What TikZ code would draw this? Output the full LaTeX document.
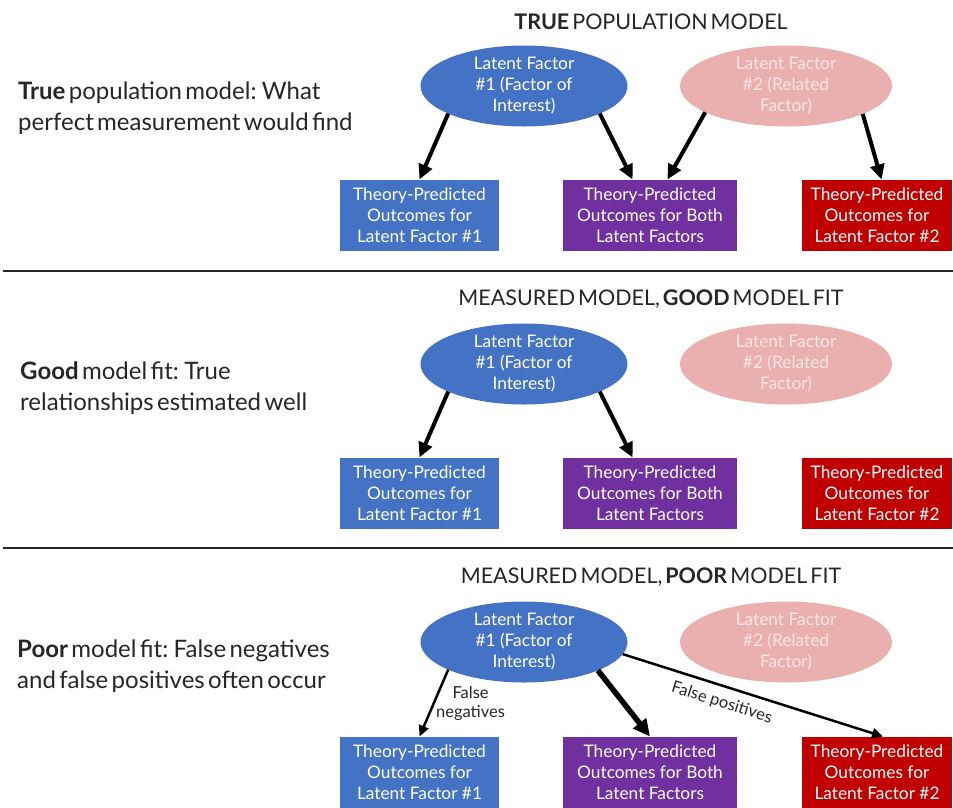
\documentclass[tikz,border=0pt]{standalone}
\usepackage{fontspec}
\setmainfont{Lato}
\newfontfamily\tightfont{Lato}[WordSpace=0.55]
\usetikzlibrary{arrows.meta,shapes.geometric,calc}
\definecolor{lfblue}{HTML}{4472C4}
\definecolor{lfpink}{HTML}{EAB0B0}
\definecolor{lfpinktext}{HTML}{FCE6E6}
\definecolor{bxpurple}{HTML}{7030A0}
\definecolor{bxred}{HTML}{C00000}
\definecolor{rulegray}{HTML}{262626}
\begin{document}
\begin{tikzpicture}[x=1pt,y=-1pt,
  lfnode/.style={ellipse, minimum width=207, minimum height=81, inner sep=0pt, outer sep=0pt,
     align=center, font=\fontsize{17.3}{21}\selectfont},
  lfone/.style={lfnode, fill=lfblue, text=white},
  lftwo/.style={lfnode, fill=lfpink, text=lfpinktext, minimum width=212},
  bx/.style={rectangle, minimum height=71, inner sep=0pt, outer sep=0pt, text=white,
     align=center, font=\fontsize{17.3}{21}\selectfont},
  bxone/.style={bx, fill=lfblue, minimum width=159},
  bxtwo/.style={bx, fill=bxpurple, minimum width=174},
  bxthree/.style={bx, fill=bxred, minimum width=150},
  ttl/.style={font=\tightfont\fontsize{21.5}{24}\selectfont, text=black!85, inner sep=0pt},
  side/.style={anchor=west, align=left, font=\tightfont\fontsize{24}{31}\selectfont, text=black!85, inner sep=0pt},
  arr/.style={-{Triangle[length=15pt,width=14pt]}, line width=4pt},
  arrthin/.style={-{Triangle[length=11pt,width=10pt]}, line width=2.5pt},
  arrthick/.style={-{Triangle[length=17pt,width=16pt]}, line width=5.5pt},
  lbl/.style={font=\fontsize{16.5}{19}\selectfont, text=black!85, align=center, inner sep=1pt},
  sep/.style={line width=2.5pt, draw=rulegray}
]
\useasboundingbox (0,0) rectangle (953,807);

% ---------- Panel 1 ----------
\node[ttl] (t1) at (651,22) {\textbf{TRUE} POPULATION MODEL};
\node[side] (s1) at (18,108) {\textbf{True} population model: What\\perfect measurement would find};
\node[lfone] (ea) at (524,86) {Latent Factor\\\#1 (Factor of\\Interest)};
\node[lftwo] (fa) at (786,86) {Latent Factor\\\#2 (Related\\Factor)};
\node[bxone] (ba) at (419.5,215) {Theory-Predicted\\Outcomes for\\Latent Factor \#1};
\node[bxtwo] (ca) at (650,215) {Theory-Predicted\\Outcomes for Both\\Latent Factors};
\node[bxthree] (da) at (877,215) {Theory-Predicted\\Outcomes for\\Latent Factor \#2};
\draw[arr] (ea.200) -- (ba.north);
\draw[arr] (ea.340) -- ($(ca.north west)!0.40!(ca.north east)$);
\draw[arr] (fa.198) -- ($(ca.north west)!0.60!(ca.north east)$);
\draw[arr] (fa.340) -- ($(da.north west)!0.53!(da.north east)$);

\coordinate (la) at (3,271);
\coordinate (lb) at (953,271);
\draw[sep] (la) -- (lb);

% ---------- Panel 2 ----------
\node[ttl] (t2) at (651,299) {MEASURED MODEL, \textbf{GOOD} MODEL FIT};
\node[side] (s2) at (20,388) {\textbf{Good} model fit: True\\relationships estimated well};
\node[lfone] (eb) at (524,364) {Latent Factor\\\#1 (Factor of\\Interest)};
\node[lftwo] (fb) at (786,364) {Latent Factor\\\#2 (Related\\Factor)};
\node[bxone] (bb) at (419.5,493) {Theory-Predicted\\Outcomes for\\Latent Factor \#1};
\node[bxtwo] (cb) at (650,493) {Theory-Predicted\\Outcomes for Both\\Latent Factors};
\node[bxthree] (db) at (877,493) {Theory-Predicted\\Outcomes for\\Latent Factor \#2};
\draw[arr] (eb.200) -- (bb.north);
\draw[arr] (eb.340) -- ($(cb.north west)!0.40!(cb.north east)$);

\coordinate (lc) at (3,548);
\coordinate (ld) at (953,548);
\draw[sep] (lc) -- (ld);

% ---------- Panel 3 ----------
\node[ttl] (t3) at (651,577) {MEASURED MODEL, \textbf{POOR} MODEL FIT};
\node[side] (s3) at (17,666) {\textbf{Poor} model fit: False negatives\\and false positives often occur};
\node[lfone] (ec) at (524,642) {Latent Factor\\\#1 (Factor of\\Interest)};
\node[lftwo] (fc) at (786,642) {Latent Factor\\\#2 (Related\\Factor)};
\node[bxone] (bc) at (419.5,772) {Theory-Predicted\\Outcomes for\\Latent Factor \#1};
\node[bxtwo] (cc) at (650,772) {Theory-Predicted\\Outcomes for Both\\Latent Factors};
\node[bxthree] (dc) at (877,772) {Theory-Predicted\\Outcomes for\\Latent Factor \#2};
\draw[arrthin] (ec.200) -- node[lbl, anchor=west, pos=0.5] {False\\negatives} (bc.north);
\draw[arrthick] (ec.339) -- (cc.north);
\draw[arrthin] (ec.353) -- node[lbl, sloped, below=7pt, pos=0.40] {False positives} ($(dc.north west)!0.54!(dc.north east)$);
\end{tikzpicture}
\end{document}
